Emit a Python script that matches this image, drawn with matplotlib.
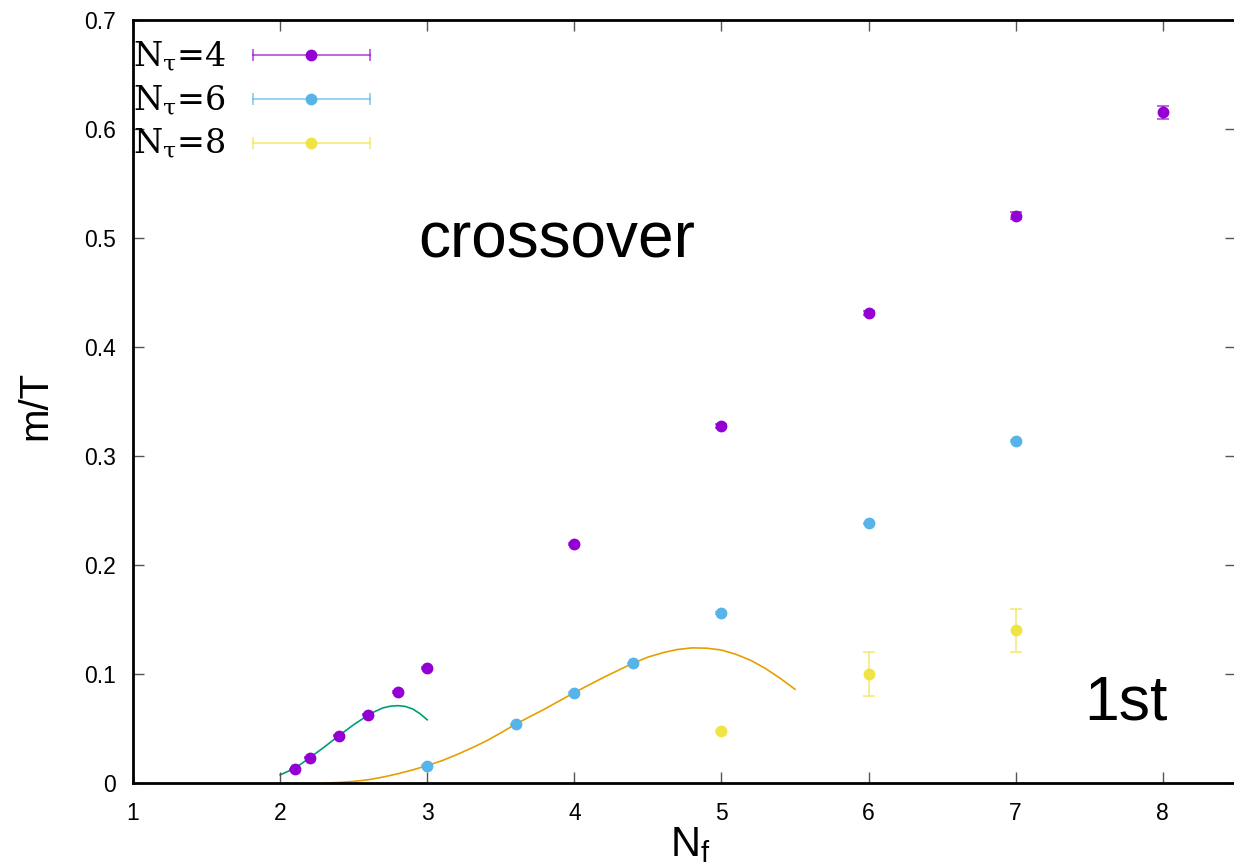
import matplotlib
matplotlib.use('Agg')
import matplotlib.pyplot as plt

plt.rcParams['font.family'] = ['Liberation Sans', 'DejaVu Sans']
plt.rcParams['mathtext.fontset'] = 'custom'
plt.rcParams['mathtext.rm'] = 'Liberation Sans'
plt.rcParams['mathtext.it'] = 'Liberation Sans'

# Nt=4 data
nf4 = [2.1, 2.2, 2.4, 2.6, 2.8, 3.0, 4.0, 5.0, 6.0, 7.0, 8.0]
m4 = [0.0128, 0.023, 0.0434, 0.0625, 0.0835, 0.1055, 0.2195, 0.3275, 0.4315, 0.5205, 0.6155]
e4 = [0.0005, 0.0005, 0.0005, 0.0005, 0.0005, 0.0005, 0.001, 0.002, 0.002, 0.003, 0.006]

# Nt=6 data
nf6 = [3.0, 3.6, 4.0, 4.4, 5.0, 6.0, 7.0]
m6 = [0.0156, 0.054, 0.0826, 0.1097, 0.156, 0.2385, 0.3138]
e6 = [0.0005, 0.0005, 0.0005, 0.0005, 0.0005, 0.0005, 0.0005]

# Nt=8 data
nf8 = [5.0, 6.0, 7.0]
m8 = [0.0477, 0.100, 0.140]
e8 = [0.0005, 0.020, 0.020]

# fit curves
fit4_x = [2.0, 2.1, 2.2, 2.3, 2.4, 2.5, 2.6, 2.65, 2.7, 2.75, 2.8, 2.85, 2.9, 2.95, 3.0]
fit4_y = [0.0075, 0.0135, 0.023, 0.033, 0.0435, 0.0535, 0.0625, 0.066, 0.069, 0.0705, 0.071,
          0.0703, 0.068, 0.0637, 0.058]

fit6_x = [2.3, 2.4, 2.5, 2.6, 2.7, 2.8, 2.9, 3.0, 3.1, 3.2, 3.3, 3.4, 3.5, 3.6, 3.7, 3.8,
          3.9, 4.0, 4.1, 4.2, 4.3, 4.4, 4.5, 4.6, 4.7, 4.8, 4.9, 5.0, 5.1, 5.2, 5.3, 5.4, 5.5]
fit6_y = [0.0, 0.0005, 0.0015, 0.003, 0.0055, 0.0085, 0.012, 0.016, 0.0205, 0.026, 0.032,
          0.0385, 0.046, 0.054, 0.061, 0.068, 0.0755, 0.083, 0.090, 0.097, 0.1035, 0.110,
          0.1155, 0.1195, 0.1225, 0.124, 0.1237, 0.122, 0.118, 0.1125, 0.105, 0.096, 0.086]

labels = [r'N$_\mathrm{τ}$=4', r'N$_\mathrm{τ}$=6', r'N$_\mathrm{τ}$=8']
colors = ['#9400d3', '#56b4e9', '#f0e442']

fig = plt.figure(figsize=(12.34, 8.68), dpi=100)
ax = fig.add_axes([0.1078, 0.0979, 0.8941, 0.879])

ax.plot(fit4_x, fit4_y, color='#009e73', lw=1.2, zorder=1)
ax.plot(fit6_x, fit6_y, color='#e69f00', lw=1.2, zorder=1)

for x, y, e, c in [(nf4, m4, e4, colors[0]), (nf6, m6, e6, colors[1]), (nf8, m8, e8, colors[2])]:
    ax.errorbar(x, y, yerr=e, fmt='none', ecolor=c, alpha=0.7, elinewidth=1.2,
                capsize=4, capthick=1.2, zorder=2)
    ax.plot(x, y, 'o', color=c, ms=8.5, mec='none', zorder=3)

# legend drawn by hand, gnuplot style
rows = [0.941, 0.883, 0.826]
for lab, c, yb in zip(labels, colors, rows):
    ax.text(0.0, yb, lab, transform=ax.transAxes, va='baseline', ha='left',
            fontsize=24, family='DejaVu Serif', math_fontfamily='dejavuserif')
    yl = yb + 0.0135
    ax.plot([0.1088, 0.2149], [yl, yl], color=c, alpha=0.7, lw=1.2,
            transform=ax.transAxes, clip_on=False)
    ax.plot([0.1088, 0.2149], [yl, yl], '|', color=c, alpha=0.7, ms=8, mew=1.2,
            transform=ax.transAxes, clip_on=False)
    ax.plot([0.1614], [yl], 'o', color=c, ms=8.5, mec='none',
            transform=ax.transAxes, clip_on=False)

ax.text(2.94, 0.498, 'crossover', fontsize=46, va='center', ha='left')
ax.text(7.465, 0.058, '1st', fontsize=45, va='baseline', ha='left')

ax.set_xlim(1, 8.5)
ax.set_ylim(0, 0.7)
ax.set_xticks([1, 2, 3, 4, 5, 6, 7, 8])
ax.set_yticks([0, 0.1, 0.2, 0.3, 0.4, 0.5, 0.6, 0.7])
ax.set_yticklabels(['0', '0.1', '0.2', '0.3', '0.4', '0.5', '0.6', '0.7'])
ax.tick_params(direction='in', length=8, width=1, color='#555555', labelsize=16.5,
               top=True, right=True)
ax.tick_params(axis='x', pad=14)
ax.tick_params(axis='y', pad=12)
for s in ax.spines.values():
    s.set_linewidth(2)

ax.set_xlabel(r'N$_\mathregular{f}$', fontsize=30)
ax.xaxis.set_label_coords(0.505, -0.055)
ax.set_ylabel('m/T', fontsize=29)
ax.yaxis.set_label_coords(-0.071, 0.495)

plt.savefig('out.png', dpi=100)
